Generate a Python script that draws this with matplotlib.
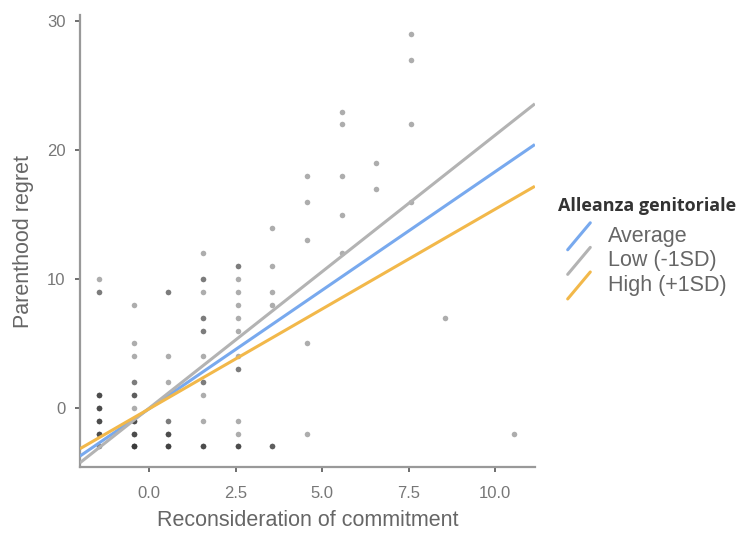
import matplotlib
matplotlib.use("Agg")
import matplotlib.pyplot as plt
import numpy as np
from matplotlib.lines import Line2D
from matplotlib.legend_handler import HandlerBase

# Scatter data: x position (centered commitment), y value, number of overlapping points
pt_x = [-1.45] * 7 + [-0.44] * 9 + [0.55] * 6 + [1.56] * 10 + [2.56] * 11 + \
       [3.56] * 5 + [4.56] * 5 + [5.56] * 5 + [6.56] * 2 + [7.56] * 4 + [8.56] + [10.56]
pt_y = [10, 9, 1, 0, -1, -2, -3,
        8, 5, 4, 2, 1, 0, -1, -2, -3,
        9, 4, 2, -1, -2, -3,
        12, 10, 9, 7, 6, 4, 2, 1, -1, -3,
        11, 10, 9, 8, 7, 6, 4, 3, -1, -2, -3,
        14, 11, 9, 8, -3,
        18, 16, 13, 5, -2,
        23, 22, 18, 15, 12,
        19, 17,
        29, 27, 22, 16,
        7,
        -2]
pt_n = [1, 2, 4, 4, 4, 4, 2,
        1, 1, 1, 2, 3, 1, 4, 4, 6,
        2, 1, 1, 2, 4, 5,
        1, 2, 1, 2, 2, 1, 2, 1, 1, 4,
        2, 1, 1, 1, 1, 1, 1, 2, 1, 1, 4,
        1, 1, 1, 1, 3,
        1, 1, 1, 1, 1,
        1, 1, 1, 1, 1,
        1, 1,
        1, 1, 1, 1,
        1,
        1]

# Simple slopes for levels of the moderator
line_labels = ["Average", "Low (-1SD)", "High (+1SD)"]
line_slopes = [1.84, 2.12, 1.55]
line_intercepts = [-0.07, -0.03, -0.08]
line_colors = ["#78a9ee", "#b3b3b3", "#f2b84a"]

xs = np.repeat(pt_x, pt_n)
ys = np.repeat(pt_y, pt_n)


class DiagHandler(HandlerBase):
    # draw legend keys as short diagonal strokes
    def create_artists(self, legend, orig_handle, xdescent, ydescent,
                       width, height, fontsize, trans):
        x0 = -xdescent + width * 0.3
        x1 = -xdescent + width * 1.0
        y0 = -ydescent - height * 0.3
        y1 = -ydescent + height * 1.1
        ln = Line2D([x0, x1], [y0, y1], color=orig_handle.get_color(),
                    linewidth=orig_handle.get_linewidth(), solid_capstyle="round")
        ln.set_transform(trans)
        return [ln]


plt.rcParams["font.family"] = ["Liberation Sans", "DejaVu Sans"]

fig = plt.figure(figsize=(7.46, 5.33), dpi=100)
ax = fig.add_axes([0.1072, 0.1238, 0.6098, 0.848])

ax.scatter(xs, ys, s=16, color="#333333", alpha=0.4, linewidths=0, zorder=2)

xlim = (-2.0, 11.15)
xx = np.array(xlim)
handles = []
for lab, b, a, c in zip(line_labels, line_slopes, line_intercepts, line_colors):
    h, = ax.plot(xx, a + b * xx, color=c, linewidth=2.2, label=lab, zorder=3,
                 solid_capstyle="butt")
    handles.append(h)

ax.set_xlim(xlim)
ax.set_ylim(-4.6, 30.5)
ax.set_xticks([0, 2.5, 5, 7.5, 10])
ax.set_xticklabels(["0.0", "2.5", "5.0", "7.5", "10.0"])
ax.set_yticks([0, 10, 20, 30])

for s in ["top", "right"]:
    ax.spines[s].set_visible(False)
for s in ["left", "bottom"]:
    ax.spines[s].set_color("#999999")
    ax.spines[s].set_linewidth(1.6)
ax.tick_params(colors="#555555", labelcolor="#777777", labelsize=12,
               length=3.5, width=1.2, pad=7)
ax.tick_params(axis="x", pad=10)

ax.set_xlabel("Reconsideration of commitment", fontsize=15.5, color="#666666", labelpad=7)
ax.set_ylabel("Parenthood regret", fontsize=15.5, color="#666666", labelpad=9)

leg = fig.legend(handles=handles, labels=line_labels, title="Alleanza genitoriale",
                 handler_map={Line2D: DiagHandler()},
                 loc="upper left", bbox_to_anchor=(558 / 746, 1 - 197 / 533), frameon=False,
                 fontsize=15.5, labelspacing=0.12, handlelength=1.5, handleheight=1.0,
                 handletextpad=0.8, borderaxespad=0, borderpad=0, alignment="left")
leg._legend_box.sep = 7
leg.get_title().set_fontfamily(["Open Sans", "DejaVu Sans"])
leg.get_title().set_fontweight("bold")
leg.get_title().set_fontsize(13)
leg.get_title().set_color("#333333")
for t in leg.get_texts():
    t.set_color("#666666")

fig.savefig("out.png", dpi=100)
